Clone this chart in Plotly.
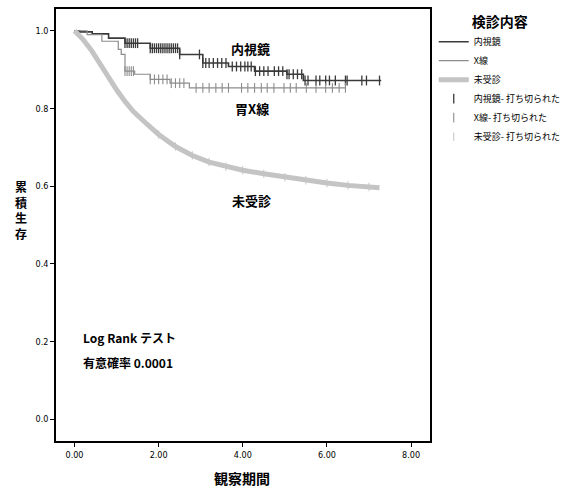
import numpy as np
import plotly.graph_objects as go

# ---- data ----
endo_t = [0.0, 0.12, 0.42, 0.81, 1.2, 1.8, 2.5, 3.05, 3.66, 4.28, 5.05, 5.44, 7.29]
endo_s = [1.0, 0.997, 0.992, 0.981, 0.968, 0.955, 0.939, 0.917, 0.908, 0.896, 0.888, 0.872, 0.872]

xray_t = [0.0, 0.3, 0.65, 1.04, 1.11, 1.2, 1.43, 1.8, 2.27, 2.73, 6.44]
xray_s = [1.0, 0.99, 0.973, 0.952, 0.939, 0.896, 0.888, 0.875, 0.865, 0.853, 0.853]

none_t = [0.0, 0.2, 0.4, 0.6, 0.8, 1.0, 1.2, 1.4, 1.7, 2.0, 2.4, 2.8, 3.2, 3.6,
          4.0, 4.5, 5.0, 5.5, 6.0, 6.5, 7.0, 7.25]
none_s = [1.0, 0.978, 0.95, 0.915, 0.88, 0.848, 0.818, 0.792, 0.762, 0.733, 0.702,
          0.679, 0.662, 0.650, 0.641, 0.632, 0.623, 0.615, 0.608, 0.602, 0.598, 0.596]

endo_censor = [1.2, 1.25, 1.3, 1.35, 1.4, 1.45, 1.5, 1.8, 1.85, 1.9, 1.95, 2.0, 2.05,
               2.1, 2.15, 2.2, 2.25, 2.3, 2.35, 2.4, 2.45, 2.5, 2.97, 3.05, 3.12, 3.2,
               3.3, 3.4, 3.5, 3.6, 3.75, 3.85, 3.95, 4.05, 4.12, 4.2, 4.3, 4.4, 4.5,
               4.6, 4.75, 4.85, 4.95, 5.05, 5.1, 5.2, 5.3, 5.4, 5.48, 5.55, 5.74, 5.83,
               5.97, 6.06, 6.2, 6.44, 6.48, 6.83, 6.94, 7.25]
xray_censor = [1.2, 1.25, 1.3, 1.35, 1.4, 1.8, 1.9, 2.0, 2.1, 2.2, 2.3, 2.4, 2.5, 2.6,
               2.89, 3.05, 3.2, 3.36, 3.51, 3.66, 3.97, 4.12, 4.28, 4.44, 4.58, 4.74,
               4.98, 5.13, 5.27, 5.51, 5.74, 5.97, 6.13, 6.29, 6.44]
none_censor = [2.0, 2.4, 2.8, 3.2, 3.6, 4.0, 4.5, 5.0, 5.5, 6.0, 6.5, 7.0]

x_ticks = [0, 2, 4, 6, 8]
x_ticklabels = ["0.00", "2.00", "4.00", "6.00", "8.00"]
y_ticks = [0.0, 0.2, 0.4, 0.6, 0.8, 1.0]
y_ticklabels = ["0.0", "0.2", "0.4", "0.6", "0.8", "1.0"]

names = ["内視鏡", "X線", "未受診"]
censor_names = ["内視鏡- 打ち切られた", "X線- 打ち切られた", "未受診- 打ち切られた"]


def step_at(t, s, q):
    idx = np.searchsorted(np.array(t), np.array(q), side="right") - 1
    return list(np.array(s)[idx])


def interp_at(t, s, q):
    return list(np.interp(q, t, s))


CJK = "Noto Sans CJK JP"
NUM = "Liberation Sans Narrow, DejaVu Sans Condensed, Liberation Sans, sans-serif"

fig = go.Figure()

fig.add_trace(go.Scatter(x=endo_t, y=endo_s, mode="lines", line_shape="hv",
                         line=dict(color="#3a3a3a", width=1.6), name=names[0]))
fig.add_trace(go.Scatter(x=xray_t, y=xray_s, mode="lines", line_shape="hv",
                         line=dict(color="#8c8c8c", width=1.2), name=names[1]))
fig.add_trace(go.Scatter(x=none_t, y=none_s, mode="lines",
                         line=dict(color="#c4c4c4", width=5), name=names[2]))

fig.add_trace(go.Scatter(x=endo_censor, y=step_at(endo_t, endo_s, endo_censor),
                         mode="markers", name=censor_names[0],
                         marker=dict(symbol="line-ns", size=7,
                                     line=dict(color="#3a3a3a", width=1.3))))
fig.add_trace(go.Scatter(x=xray_censor, y=step_at(xray_t, xray_s, xray_censor),
                         mode="markers", name=censor_names[1],
                         marker=dict(symbol="line-ns", size=7,
                                     line=dict(color="#8c8c8c", width=1.1))))
fig.add_trace(go.Scatter(x=none_censor, y=interp_at(none_t, none_s, none_censor),
                         mode="markers", name=censor_names[2],
                         marker=dict(symbol="line-ns", size=6,
                                     line=dict(color="#c4c4c4", width=1))))

bold = dict(family=CJK, size=13, color="black", weight="bold")
fig.add_annotation(x=4.19, y=0.955, text="内視鏡", showarrow=False, font=bold)
fig.add_annotation(x=4.21, y=0.80, text="胃X線", showarrow=False, font=bold)
fig.add_annotation(x=4.21, y=0.562, text="未受診", showarrow=False, font=bold)
fig.add_annotation(x=0.16, y=0.21, text="Log Rank テスト", showarrow=False,
                   xanchor="left", font=dict(family=CJK, size=12, color="black", weight="bold"))
fig.add_annotation(x=0.16, y=0.146, text="有意確率 0.0001", showarrow=False,
                   xanchor="left", font=dict(family=CJK, size=12, color="black", weight="bold"))

# axis titles
fig.add_annotation(xref="paper", yref="paper", x=-0.093, y=0.535,
                   xanchor="center", yanchor="middle",
                   text="累<br>積<br>生<br>存", showarrow=False,
                   font=dict(family=CJK, size=12, color="black", weight="bold"))
fig.add_annotation(xref="paper", yref="paper", x=0.497, y=-0.085,
                   xanchor="center", yanchor="middle",
                   text="観察期間", showarrow=False,
                   font=dict(family=CJK, size=14, color="black", weight="bold"))

axis_common = dict(showline=True, linecolor="black", linewidth=1.5, mirror=True,
                   showgrid=False, zeroline=False, ticks="outside", ticklen=4,
                   tickcolor="black", tickwidth=1,
                   tickfont=dict(family=NUM, size=9, color="black"))

fig.update_xaxes(range=[-0.44, 8.45], tickvals=x_ticks, ticktext=x_ticklabels, **axis_common)
fig.update_yaxes(range=[-0.056, 1.056], tickvals=y_ticks, ticktext=y_ticklabels, **axis_common)

fig.update_layout(
    width=573, height=490,
    margin=dict(l=56, r=133, t=7, b=49),
    paper_bgcolor="white", plot_bgcolor="white",
    legend=dict(x=1.01, y=1.0, xanchor="left", yanchor="top",
                title=dict(text="検診内容", side="top center",
                           font=dict(family=CJK, size=14, color="black", weight="bold")),
                font=dict(family=CJK, size=9, color="black"),
                tracegroupgap=0, itemwidth=30, bgcolor="rgba(0,0,0,0)"),
)

fig.write_html("out.html")
